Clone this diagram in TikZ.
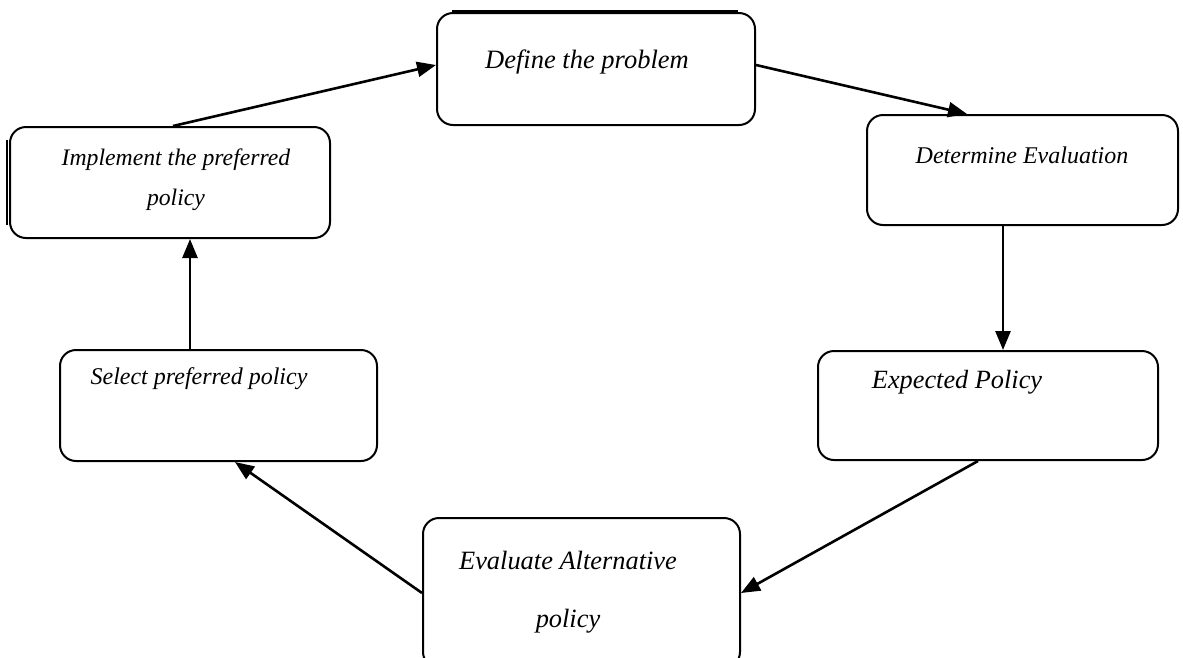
\documentclass[tikz,border=0pt]{standalone}
\usepackage{fontspec}
\setmainfont{Liberation Serif}
\usetikzlibrary{arrows.meta}

\tikzset{
  stage/.style={draw, line width=2pt, rounded corners=16pt, fill=white},
  stagetext/.style={font=\itshape, align=center, inner sep=0pt},
  link/.style={line width=2.6pt, -{Triangle[length=19pt,width=15pt]}}
}

\begin{document}
\begin{tikzpicture}[x=1pt,y=-1pt]
      \useasboundingbox (0,0) rectangle (1183,657);

      % boxes
      \node[stage, minimum width=318pt, minimum height=112pt] (define) at (596,69) {};
      \node[stage, minimum width=311pt, minimum height=110pt] (determ) at (1022.5,170) {};
      \node[stage, minimum width=340pt, minimum height=109pt] (expect) at (988,405.5) {};
      \node[stage, minimum width=317pt, minimum height=150pt] (evalalt) at (581.5,593) {};
      \node[stage, minimum width=317pt, minimum height=111pt] (select) at (218.5,405.5) {};
      \node[stage, minimum width=320pt, minimum height=111pt] (implem) at (170,182.5) {};

      \draw[line width=3.5pt] ([xshift=16pt]define.north west) -- ([xshift=-18pt]define.north east);
      \draw[line width=1.5pt] ([xshift=-2pt,yshift=-14pt]implem.north west) -- ([xshift=-2pt,yshift=14pt]implem.south west);

      % texts
      \node[stagetext, font=\fontsize{26.5}{31}\selectfont\itshape] (define-t) at (587,62) {Define the problem};
      \node[stagetext, font=\fontsize{24}{29}\selectfont\itshape] (determ-t) at (1022,155) {Determine Evaluation};
      \node[stagetext, font=\fontsize{26.3}{31}\selectfont\itshape] (expect-t) at (957,382) {Expected Policy};
      \node[stagetext, font=\fontsize{26.4}{31}\selectfont\itshape] (evalalt-t) at (568,592) {Evaluate Alternative\\[27pt] policy};
      \node[stagetext, font=\fontsize{24}{29}\selectfont\itshape] (select-t) at (199,379) {Select preferred policy};
      \node[stagetext, font=\fontsize{23.7}{28}\selectfont\itshape] (implem-t) at (176,179.5) {Implement the preferred\\[12pt] policy};

      % arrows
      \draw[link] ([xshift=3pt]implem.north) -- ([yshift=4pt]define.west);
      \draw[link] ([yshift=4pt]define.east) -- ([xshift=-55.5pt]determ.north);
      \draw[link] ([xshift=-19.5pt]determ.south) -- ([xshift=-19.5pt]determ.south |- expect.north);
      \draw[link] ([xshift=-10pt]expect.south) -- (evalalt.east);
      \draw[link] (evalalt.west) -- ([xshift=16.5pt]select.south);
      \draw[link] ([xshift=-28.5pt]select.north) -- ([xshift=-28.5pt]select.north |- implem.south);
    \end{tikzpicture}
\end{document}
